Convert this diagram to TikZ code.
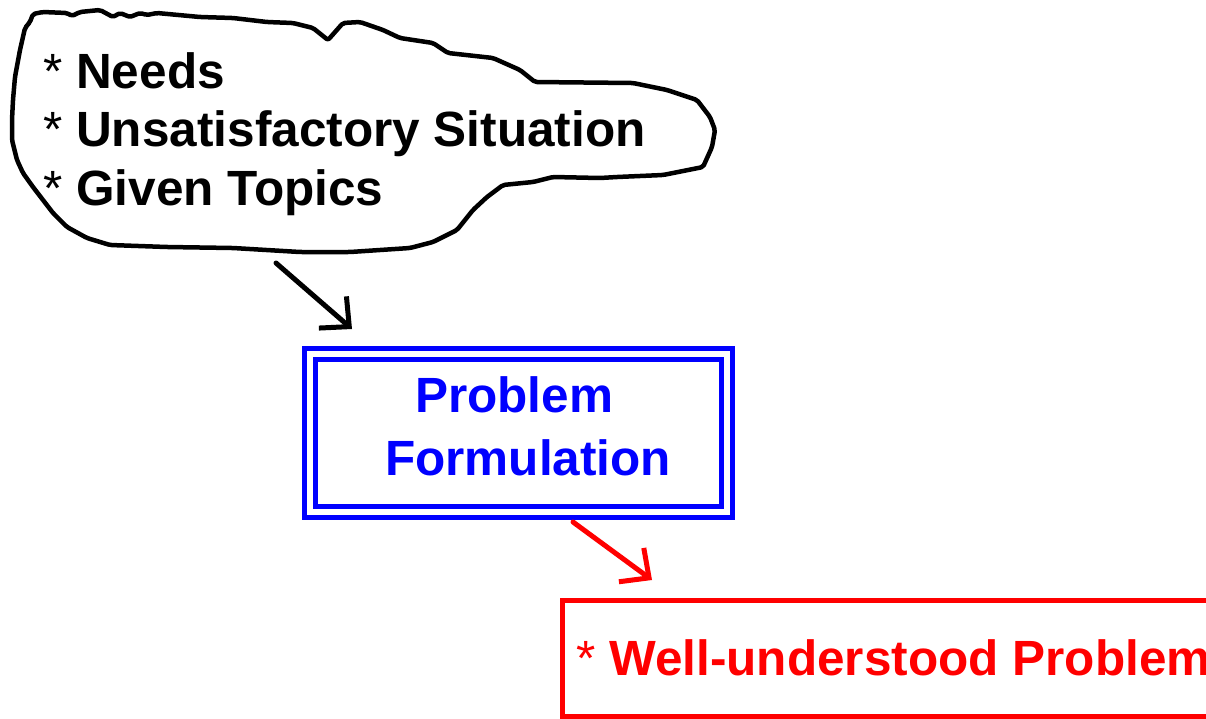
\documentclass[tikz,border=0pt]{standalone}
\usepackage{fontspec}
\setmainfont{Liberation Sans}
\usetikzlibrary{arrows.meta}
\definecolor{inkblue}{HTML}{0000FF}
\definecolor{inkred}{HTML}{FF0000}

\tikzset{
  blobtext/.style={inner sep=0pt, anchor=base west,
    font=\fontsize{49.5}{58}\selectfont\bfseries},
  formtext/.style={blobtext, text=inkblue},
  resulttext/.style={blobtext, text=inkred},
  dblbox/.style={draw=inkblue, line width=5pt, double=white,
    double distance=6pt, inner sep=0pt},
  redbox/.style={draw=inkred, line width=5pt, inner sep=0pt},
  scribble/.style={line width=5pt, line cap=round, line join=round,
    -{Straight Barb[length=22pt,width=42pt]}},
}

\begin{document}
\begin{tikzpicture}[x=1pt, y=-1pt]

\useasboundingbox (0,0) rectangle (1206,718);
\fill[white] (0,0) rectangle (1206,718);
\clip (0,0) rectangle (1206,718);

% =========================
% CLOUD OF STARTING POINTS
% =========================
\draw[line width=4.5pt, line join=round, rounded corners=2pt]
(33,14) -- (43,12) -- (67,13) -- (72,16) -- (80,12) -- (100,10)
-- (113,17) -- (120,13) -- (130,17) -- (140,13) -- (147,15) -- (157,13)
-- (200,17) -- (233,18) -- (267,22) -- (293,23) -- (313,28) -- (328,40)
-- (343,23) -- (360,22) -- (383,30) -- (400,38) -- (433,43) -- (448,53)
-- (493,58) -- (520,70) -- (535,82) -- (633,83) -- (667,90) -- (697,100)
-- (710,117) -- (715,130) -- (712,147) -- (703,167) -- (663,175)
-- (617,177) -- (600,178) -- (553,177) -- (533,182) -- (503,185)
-- (487,197) -- (473,210) -- (457,230) -- (433,242) -- (410,248)
-- (350,252) -- (300,252) -- (233,248) -- (167,247) -- (110,245)
-- (87,238) -- (67,227) -- (53,213) -- (43,200) -- (33,187) -- (23,173)
-- (17,160) -- (12,140) -- (12,120) -- (13,100) -- (15,77) -- (20,50)
-- (25,28) -- (30,22) -- cycle;

% three items
\foreach \txt [count=\i] in {Needs, Unsatisfactory Situation, Given Topics}
  \node[blobtext] (need\i) at (43,29.5+58.5*\i) {{\mdseries*} \txt};

% =========================
% PROBLEM FORMULATION (double frame)
% =========================
\node[dblbox, minimum width=417pt, minimum height=158pt]
(formulation) at (518.5,433) {};
\node[formtext] (problem) at (415,412) {Problem};
\node[formtext] (formul) at (385,475) {Formulation};

% =========================
% RESULT (runs off the page)
% =========================
\node[redbox, minimum width=698pt, minimum height=116pt]
(result) at (911,658) {};
\node[resulttext] (resulttxt) at (576,675) {{\mdseries*} Well-understood Problem};

% =========================
% HAND-DRAWN ARROWS
% =========================
\coordinate (needsfoot) at (276,263);
\coordinate (formhead) at (352,329);
\coordinate (formfoot) at (573,522);
\coordinate (resulthead) at (652,580);

\draw[scribble] (needsfoot) -- (formhead);
\draw[scribble, inkred] (formfoot) -- (resulthead);

\end{tikzpicture}
\end{document}
